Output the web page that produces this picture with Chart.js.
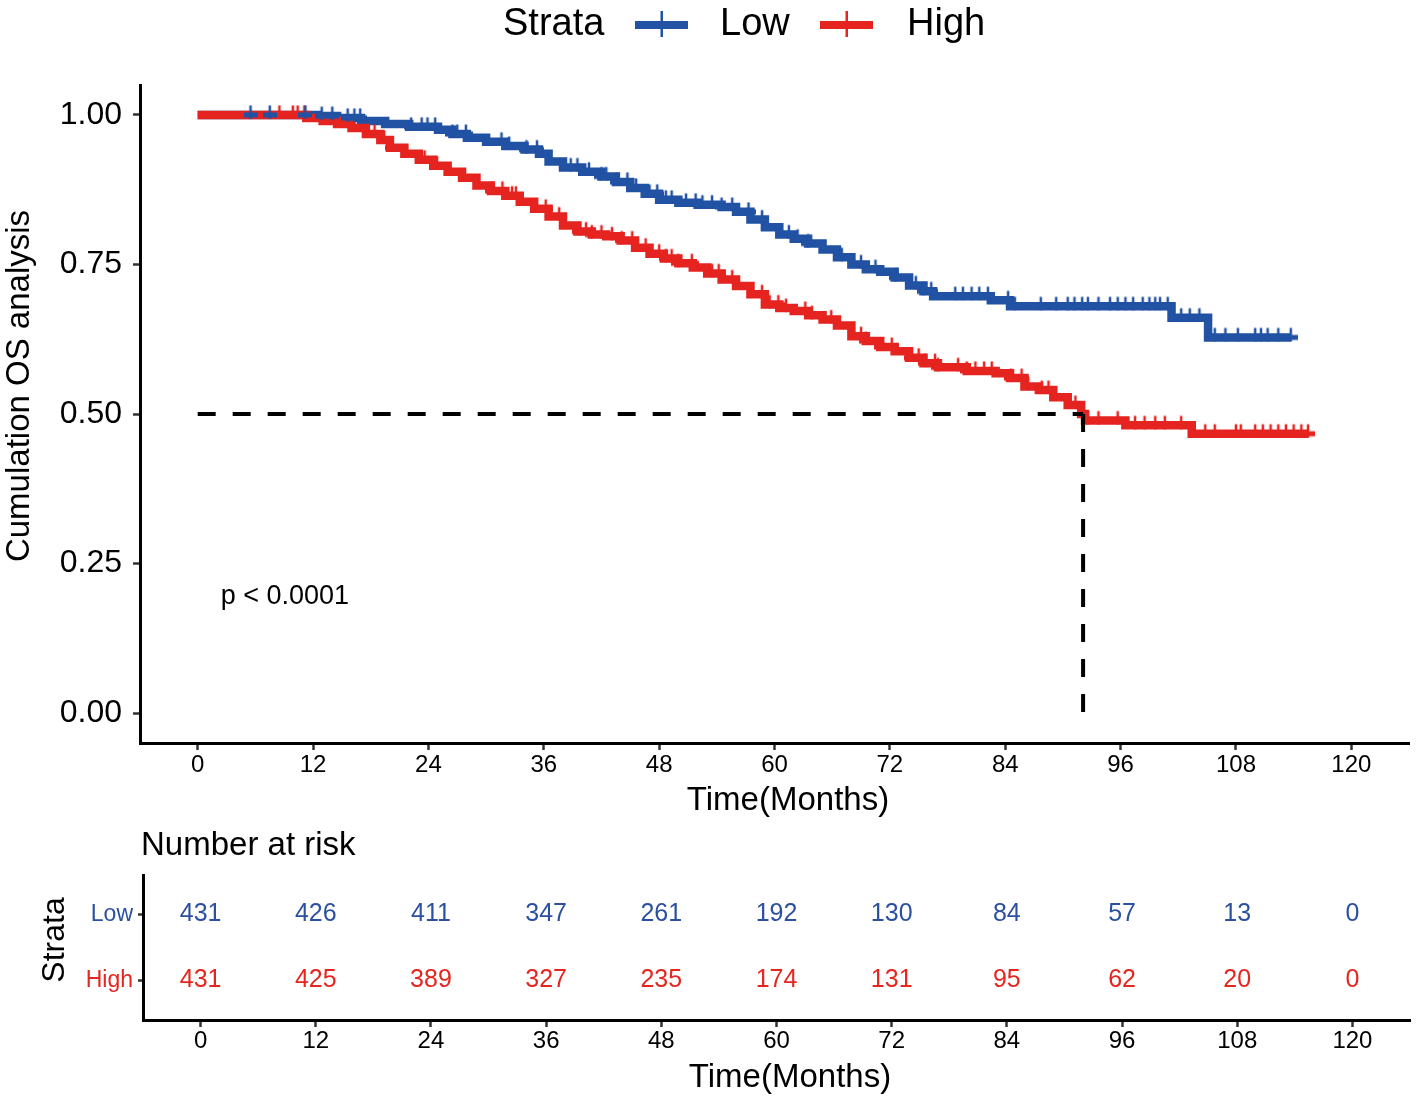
<!DOCTYPE html>
<html><head><meta charset="utf-8">
<script src="https://cdn.jsdelivr.net/npm/chart.js@4"></script>
<style>
html,body{margin:0;padding:0;background:#fff;}
#wrap{position:relative;width:1417px;height:1101px;overflow:hidden;}
#c1{position:absolute;left:0;top:0;}
#c2{position:absolute;left:0;top:830px;}
</style></head><body>
<div id="wrap">
<canvas id="c1" width="1417" height="830"></canvas>
<canvas id="c2" width="1417" height="271"></canvas>
</div>
<script>
// ---------- data ----------
const strata = ['Low', 'High'];
const legendTitle = 'Strata';
const yTitle = 'Cumulation OS analysis';
const xTitle = 'Time(Months)';
const xTicks = [0, 12, 24, 36, 48, 60, 72, 84, 96, 108, 120];
const yTicks = [0, 0.25, 0.5, 0.75, 1.0];

const lowTimes = [0, 12.5, 14.5, 17, 19.5, 22, 25, 26.5, 28, 30, 32, 34, 35.5, 36.5, 38, 40, 42, 43.5, 45, 46.5, 48, 50, 52, 54.5, 56, 57.5, 59, 60.5, 62, 63.5, 65, 66.5, 68, 69.5, 71, 72.5, 74, 75.5, 76.5, 82.5, 84.5, 101.3, 105.1, 113.7];
const lowSurv = [1.0, 0.998, 0.995, 0.99, 0.985, 0.98, 0.975, 0.968, 0.962, 0.955, 0.948, 0.942, 0.935, 0.922, 0.912, 0.905, 0.897, 0.888, 0.878, 0.868, 0.858, 0.853, 0.850, 0.846, 0.838, 0.825, 0.812, 0.800, 0.793, 0.785, 0.775, 0.762, 0.750, 0.742, 0.738, 0.728, 0.715, 0.705, 0.697, 0.690, 0.680, 0.661, 0.628, 0.628];

const highTimes = [0, 11.3, 13, 14.5, 16, 17.5, 19, 20, 21.5, 23, 24.5, 26, 27.5, 29, 30.5, 32, 33.5, 35, 36.5, 38, 39.5, 41, 42.5, 44, 45.5, 47, 48.5, 50, 51.5, 53, 54.5, 56, 57.5, 59, 60.5, 62, 63.5, 65, 66.5, 68, 69.5, 71, 72.5, 74, 75.5, 77, 80, 83, 84.5, 86, 87.5, 89, 90.5, 91.9, 92.3, 96.5, 103.4, 115.5];
const highSurv = [1.0, 0.995, 0.99, 0.985, 0.978, 0.968, 0.958, 0.945, 0.935, 0.925, 0.915, 0.905, 0.895, 0.882, 0.873, 0.865, 0.855, 0.843, 0.830, 0.815, 0.805, 0.800, 0.797, 0.790, 0.778, 0.768, 0.760, 0.752, 0.745, 0.735, 0.725, 0.714, 0.700, 0.683, 0.677, 0.672, 0.665, 0.658, 0.648, 0.630, 0.622, 0.612, 0.605, 0.594, 0.585, 0.578, 0.572, 0.568, 0.560, 0.546, 0.540, 0.528, 0.515, 0.500, 0.489, 0.481, 0.467, 0.467];

const lowCensor = [5.5, 7.5, 11.2, 12.9, 14, 15.6, 16.3, 16.9, 22.2, 23.3, 23.9, 24.7, 26.5, 27, 27.9, 31.6, 32.4, 34.2, 35.3, 38.8, 39.5, 40.7, 42, 42.5, 43.6, 44.7, 45.6, 47, 47.8, 48.7, 49.3, 50.8, 51.8, 52.5, 53.5, 54.5, 55.6, 57.3, 58.7, 61.5, 62.4, 63.5, 67, 69, 70.5, 72.6, 74.7, 75.5, 76.3, 78.8, 79.6, 80.5, 81.3, 82.2, 84.3, 85, 87.7, 89.3, 90.5, 91.2, 92, 92.6, 93.7, 94.9, 95.7, 96.5, 97.3, 98.3, 99, 99.6, 100.1, 100.9, 102.3, 103.2, 104.2, 105.8, 106.9, 108.2, 110, 110.6, 111.3, 112.4, 113.7];
const highCensor = [8.5, 9.9, 10.4, 11.1, 18.4, 19.4, 20.2, 23.6, 24.9, 30.6, 31.7, 32.7, 33.1, 36.2, 37.6, 39.7, 40.4, 41, 42, 43.1, 44.1, 45.2, 46.6, 48, 48.7, 49.3, 50, 51.4, 53.5, 54.2, 55.6, 58.7, 59.5, 60.4, 61.2, 63.2, 63.9, 65.9, 69, 69.5, 71.1, 72.2, 74.2, 75, 75.7, 76.7, 77, 79.1, 80, 80.9, 81.8, 82.6, 84.6, 85.7, 86.4, 87.8, 88.5, 91.3, 92.6, 93.7, 95.7, 97.5, 98.5, 99.6, 100.6, 102.3, 104.8, 105.8, 108, 108.5, 110, 110.8, 111.6, 112.4, 113.2, 114, 114.8, 115.5];

const medianTime = 92.1;
const medianSurv = 0.5;
const pText = 'p < 0.0001';
const pPos = [2.4, 0.195];

const riskTitle = 'Number at risk';
const riskTimes = [0, 12, 24, 36, 48, 60, 72, 84, 96, 108, 120];
const riskLow = [431, 426, 411, 347, 261, 192, 130, 84, 57, 13, 0];
const riskHigh = [431, 425, 389, 327, 235, 174, 131, 95, 62, 20, 0];

// ---------- styles ----------
const F = "'Liberation Sans', Arial, Helvetica, sans-serif";
const BLUE = '#2152a3', RED = '#e52420';
const BLUE_TXT = '#2c50a0', RED_TXT = '#e4261f';
Chart.defaults.font.family = F;
Chart.defaults.color = '#000';

function survAt(times, surv, t) {
  let s = surv[0];
  for (let i = 0; i < times.length; i++) { if (times[i] <= t) s = surv[i]; else break; }
  return s;
}
function censorIcon(color) {
  const c = document.createElement('canvas');
  c.width = 14; c.height = 28;
  const g = c.getContext('2d');
  g.fillStyle = color;
  g.fillRect(5.75, 4.5, 2.5, 13.5);
  g.fillRect(0, 11.5, 14, 5);
  return c;
}
function placedText(ctx, text, x, y, font, rot) {
  ctx.save();
  ctx.translate(x, y); if (rot) ctx.rotate(-Math.PI / 2);
  ctx.font = font; ctx.fillStyle = '#000'; ctx.textAlign = 'center'; ctx.textBaseline = 'middle';
  ctx.fillText(text, 0, 0);
  ctx.restore();
}
const stepData = (times, surv) => times.map((t, i) => ({x: t, y: surv[i]}));
const censorData = (cens, times, surv) => cens.map(t => ({x: t, y: survAt(times, surv, t)}));

const kmDecor = {
  id: 'kmDecor',
  afterDraw(chart) {
    const ctx = chart.ctx; const {x, y} = chart.scales;
    ctx.save();
    const ly = 25;
    ctx.font = '38px ' + F; ctx.fillStyle = '#000'; ctx.textBaseline = 'middle'; ctx.textAlign = 'left';
    ctx.fillText(legendTitle, 503, ly);
    const items = [{label: strata[0], color: BLUE, x0: 635, tx: 720}, {label: strata[1], color: RED, x0: 820, tx: 907}];
    items.forEach(it => {
      ctx.fillStyle = it.color;
      ctx.fillRect(it.x0, ly - 4, 53, 8);
      ctx.fillRect(it.x0 + 25.5, ly - 14, 2.5, 26);
      ctx.fillStyle = '#000';
      ctx.fillText(it.label, it.tx, ly);
    });
    ctx.font = '27px ' + F;
    ctx.fillText(pText, x.getPixelForValue(pPos[0]), y.getPixelForValue(pPos[1]));
    ctx.restore();
    placedText(ctx, yTitle, 20, 386, '33px ' + F, true);
    placedText(ctx, xTitle, 788, 801, '33px ' + F, false);
  }
};

new Chart(document.getElementById('c1'), {
  type: 'line',
  data: {
    datasets: [
      {label: 'medianH', data: [{x: 0, y: medianSurv}, {x: medianTime, y: medianSurv}], borderColor: '#000', borderWidth: 4, borderDash: [18, 17], pointRadius: 0, fill: false},
      {label: 'medianV', data: [{x: medianTime, y: medianSurv}, {x: medianTime, y: 0}], borderColor: '#000', borderWidth: 4, borderDash: [18, 17], pointRadius: 0, fill: false},
      {label: 'LowCensor', data: censorData(lowCensor, lowTimes, lowSurv), showLine: false, pointStyle: censorIcon(BLUE), pointRadius: 7},
      {label: 'HighCensor', data: censorData(highCensor, highTimes, highSurv), showLine: false, pointStyle: censorIcon(RED), pointRadius: 7},
      {label: strata[1], data: stepData(highTimes, highSurv), stepped: 'before', borderColor: RED, borderWidth: 8.5, pointRadius: 0, fill: false, borderCapStyle: 'butt', borderJoinStyle: 'miter'},
      {label: strata[0], data: stepData(lowTimes, lowSurv), stepped: 'before', borderColor: BLUE, borderWidth: 8.5, pointRadius: 0, fill: false, borderCapStyle: 'butt', borderJoinStyle: 'miter'}
    ]
  },
  options: {
    responsive: false, animation: false, events: [],
    layout: {padding: {left: 0, right: 7, top: 85, bottom: 0}},
    plugins: {legend: {display: false}, tooltip: {enabled: false}, title: {display: false}},
    scales: {
      x: {
        type: 'linear', min: -6, max: 126,
        afterBuildTicks: s => { s.ticks = xTicks.map(v => ({value: v})); },
        afterFit: s => { s.height = 87; },
        ticks: {font: {size: 24}, color: '#000', padding: 1, maxRotation: 0, autoSkip: false, callback: v => String(v)},
        grid: {drawOnChartArea: false, drawTicks: true, tickLength: 7, tickWidth: 2.5, tickColor: '#333'},
        border: {display: true, color: '#000', width: 3},
        title: {display: false}
      },
      y: {
        type: 'linear', min: -0.05, max: 1.05,
        afterBuildTicks: s => { s.ticks = yTicks.map(v => ({value: v})); },
        afterFit: s => { s.width = 140; },
        ticks: {font: {size: 32}, color: '#000', padding: 11, callback: v => Number(v).toFixed(2)},
        grid: {drawOnChartArea: false, drawTicks: true, tickLength: 7, tickWidth: 2.5, tickColor: '#333'},
        border: {display: true, color: '#000', width: 3},
        title: {display: false}
      }
    }
  },
  plugins: [kmDecor]
});

const riskDecor = {
  id: 'riskDecor',
  afterDraw(chart) {
    const ctx = chart.ctx; const {x, y} = chart.scales;
    ctx.save();
    ctx.font = '25px ' + F; ctx.textAlign = 'center'; ctx.textBaseline = 'middle';
    riskTimes.forEach((t, i) => {
      ctx.fillStyle = BLUE_TXT;
      ctx.fillText(String(riskLow[i]), x.getPixelForValue(t), y.getPixelForValue(2));
      ctx.fillStyle = RED_TXT;
      ctx.fillText(String(riskHigh[i]), x.getPixelForValue(t), y.getPixelForValue(1));
    });
    ctx.font = '33px ' + F; ctx.fillStyle = '#000'; ctx.textAlign = 'left';
    ctx.fillText(riskTitle, 141, 16);
    ctx.restore();
    placedText(ctx, legendTitle, 55, 110, '32px ' + F, true);
    placedText(ctx, xTitle, 790, 248, '33px ' + F, false);
  }
};

new Chart(document.getElementById('c2'), {
  type: 'scatter',
  data: {datasets: [{data: [], pointRadius: 0}]},
  options: {
    responsive: false, animation: false, events: [],
    layout: {padding: {left: 0, right: 7, top: 45, bottom: 0}},
    plugins: {legend: {display: false}, tooltip: {enabled: false}},
    scales: {
      x: {
        type: 'linear', min: -6, max: 126,
        afterBuildTicks: s => { s.ticks = riskTimes.map(v => ({value: v})); },
        afterFit: s => { s.height = 81; },
        ticks: {font: {size: 24}, color: '#000', padding: 0, maxRotation: 0, autoSkip: false, callback: v => String(v)},
        grid: {drawOnChartArea: false, drawTicks: true, tickLength: 7, tickWidth: 2.5, tickColor: '#333'},
        border: {display: true, color: '#000', width: 3},
        title: {display: false}
      },
      y: {
        type: 'linear', min: 0.4, max: 2.6,
        afterBuildTicks: s => { s.ticks = [{value: 1}, {value: 2}]; },
        afterFit: s => { s.width = 143; },
        ticks: {font: {size: 23}, padding: 5, callback: v => (v === 2 ? strata[0] : strata[1]),
          color: c => (c.tick && c.tick.value === 2 ? BLUE_TXT : RED_TXT)},
        grid: {drawOnChartArea: false, drawTicks: true, tickLength: 5, tickWidth: 2.5, tickColor: '#333'},
        border: {display: true, color: '#000', width: 3},
        title: {display: false}
      }
    }
  },
  plugins: [riskDecor]
});
</script>
</body></html>
